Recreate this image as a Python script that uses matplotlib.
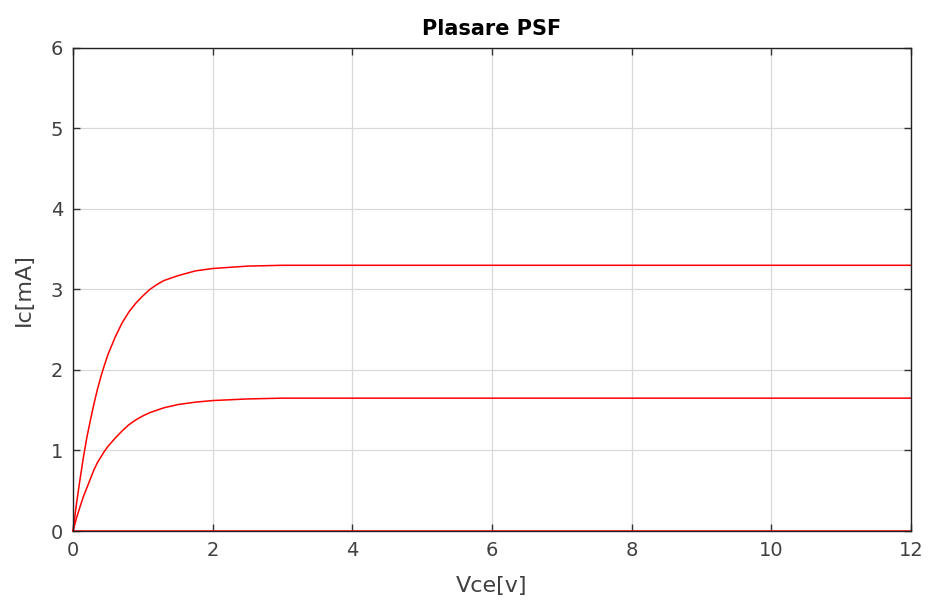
import matplotlib
matplotlib.use("Agg")
import matplotlib.pyplot as plt

# Vce samples [V]
vce = [0, 0.05, 0.1, 0.15, 0.2, 0.25, 0.3, 0.35, 0.4, 0.45, 0.5, 0.6, 0.7, 0.8,
       0.9, 1.0, 1.1, 1.2, 1.3, 1.5, 1.75, 2.0, 2.5, 3.0, 12]
# Ic curves [mA]
ic_high = [0, 0.34, 0.64, 0.92, 1.17, 1.38, 1.58, 1.76, 1.92, 2.06, 2.19, 2.40, 2.58, 2.72,
           2.83, 2.92, 3.00, 3.06, 3.11, 3.17, 3.23, 3.26, 3.29, 3.30, 3.30]
ic_low = [0, 0.16, 0.30, 0.43, 0.54, 0.65, 0.76, 0.85, 0.92, 0.99, 1.05, 1.15, 1.24, 1.32,
          1.38, 1.43, 1.47, 1.50, 1.53, 1.57, 1.60, 1.62, 1.64, 1.65, 1.65]
ic_zero = [0] * len(vce)

fig = plt.figure(figsize=(9.3, 6.1), dpi=100)
ax = fig.add_axes([0.0785, 0.1295, 0.901, 0.792])

for ic in (ic_zero, ic_low, ic_high):
    ax.plot(vce, ic, color="red", linewidth=1.1, clip_on=False)

ax.set_xlim(0, 12)
ax.set_ylim(0, 6)
ax.set_xticks(range(0, 13, 2))
ax.set_yticks(range(0, 7))
ax.grid(True, color="#d9d9d9", linewidth=0.9)
ax.set_axisbelow(True)
ax.tick_params(direction="in", top=True, right=True, length=5, width=1,
               labelsize=14, labelcolor="#404040", color="#333333", pad=7)
for s in ax.spines.values():
    s.set_color("#222222")
    s.set_linewidth(1)

ax.set_title("Plasare PSF", fontsize=15, fontweight="bold", pad=9)
ax.set_xlabel("Vce[v]", fontsize=16, color="#404040", labelpad=12)
ax.set_ylabel("Ic[mA]", fontsize=16, color="#404040", labelpad=12)

fig.savefig("out.png", dpi=100)
